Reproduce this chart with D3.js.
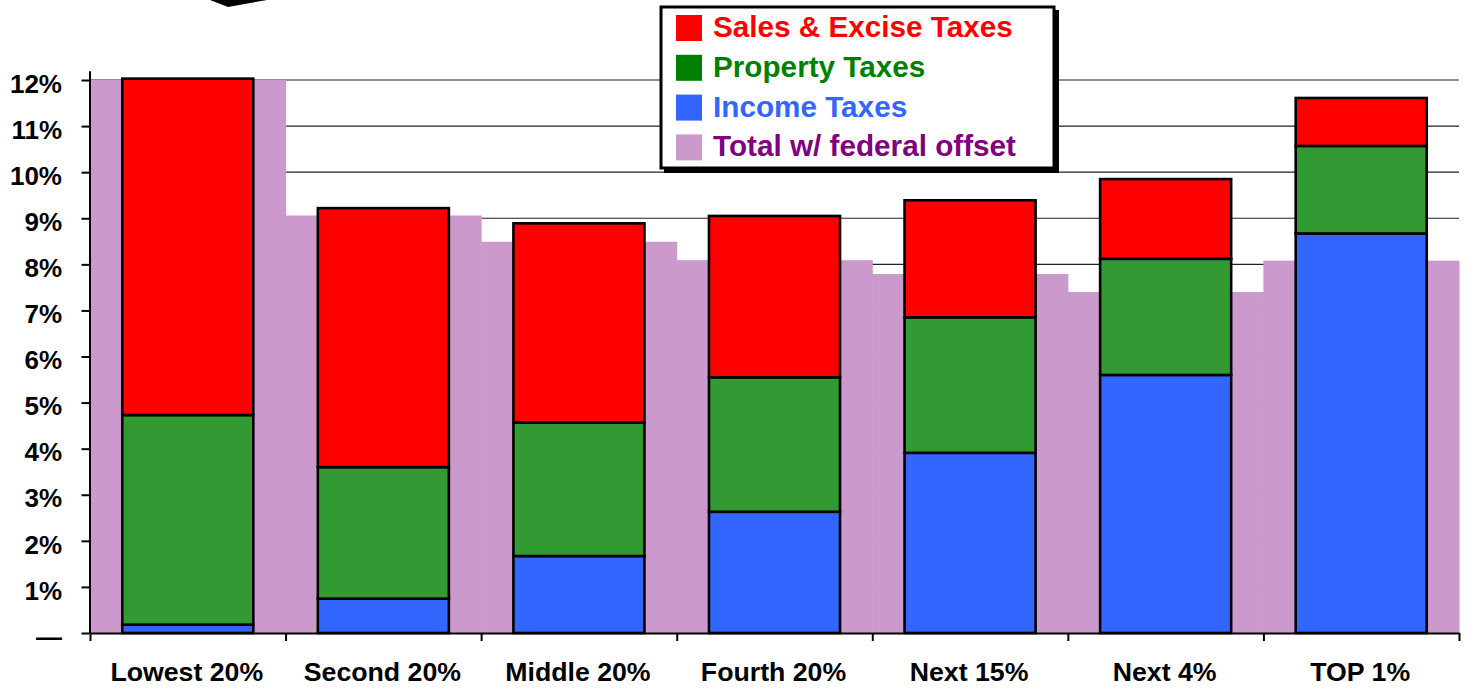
<!DOCTYPE html>
<html>
<head>
<meta charset="utf-8">
<script src="https://cdn.jsdelivr.net/npm/d3@7"></script>
<style>
	body { margin: 0; background: #fff; }
	text { font-family: "Liberation Sans", Arial, sans-serif; font-weight: bold; }
</style>
</head>
<body>
<script>

// Data (percent of income)
var groups = ["Lowest 20%", "Second 20%", "Middle 20%", "Fourth 20%", "Next 15%", "Next 4%", "TOP 1%"];
var incomeTax = [0.18, 0.745, 1.67, 2.63, 3.91, 5.60, 8.67];
var propertyTax = [4.55, 2.855, 2.90, 2.92, 2.94, 2.52, 1.90];
var salesTax = [7.30, 5.62, 4.32, 3.50, 2.54, 1.73, 1.04];
var federalOffset = [12.0, 9.06, 8.49, 8.09, 7.79, 7.40, 8.08];
var yTicks = [0, 1, 2, 3, 4, 5, 6, 7, 8, 9, 10, 11, 12];

var legendItems = [
	{label: "Sales & Excise Taxes", box: "#ff0000", text: "#ff0000"},
	{label: "Property Taxes", box: "#008000", text: "#008000"},
	{label: "Income Taxes", box: "#3366ff", text: "#3366ff"},
	{label: "Total w/ federal offset", box: "#cc99cc", text: "#800080"}
];

var width = 1467, height = 688;
var left = 90, right = 1459, bottom = 633;

var svg = d3.select("body").append("svg")
	.attr("width", width)
	.attr("height", height);

var rows = groups.map(function(g, i) {
	return {group: g, income: incomeTax[i], property: propertyTax[i], sales: salesTax[i], offset: federalOffset[i]};
});

// Scales
var y = d3.scaleLinear()
	.domain([0, 12.2])
	.range([bottom, 70.8]);

var xGroup = d3.scaleBand()
	.domain(groups)
	.range([left, right])
	.padding(0);

var xBar = d3.scaleBand()
	.domain(groups)
	.range([left, right])
	.paddingInner(0.33)
	.paddingOuter(0.165);

var xEdge = d3.scaleLinear()
	.domain([0, groups.length])
	.range([left, right]);

var colors = {income: "#3366ff", property: "#339933", sales: "#ff0000"};

// Gridlines
svg.append("g")
	.selectAll("line")
	.data(yTicks.filter(function(d) { return d > 0; }))
	.enter()
	.append("line")
	.attr("x1", left)
	.attr("x2", right)
	.attr("y1", function(d) { return y(d); })
	.attr("y2", function(d) { return y(d); })
	.attr("stroke", "#222")
	.attr("stroke-width", 1.2);

// Federal offset backdrop
svg.append("g")
	.selectAll("rect")
	.data(rows)
	.enter()
	.append("rect")
	.attr("x", function(d) { return xGroup(d.group); })
	.attr("width", xGroup.bandwidth() + 0.5)
	.attr("y", function(d) { return y(d.offset); })
	.attr("height", function(d) { return y(0) - y(d.offset); })
	.attr("fill", "#cc99cc");

// Stacked bars
var stack = d3.stack().keys(["income", "property", "sales"]);
var series = stack(rows);

svg.append("g")
	.selectAll("g")
	.data(series)
	.enter()
	.append("g")
	.attr("fill", function(s) { return colors[s.key]; })
	.selectAll("rect")
	.data(function(s) { return s; })
	.enter()
	.append("rect")
	.attr("x", function(d) { return xBar(d.data.group); })
	.attr("width", xBar.bandwidth())
	.attr("y", function(d) { return y(d[1]); })
	.attr("height", function(d) { return y(d[0]) - y(d[1]); })
	.attr("stroke", "#000")
	.attr("stroke-width", 2.6);

// Axes
var yAxis = d3.axisLeft(y)
	.tickValues(yTicks)
	.tickSize(8)
	.tickSizeOuter(0)
	.tickPadding(19.5)
	.tickFormat(function(d) { return d === 0 ? "\u2014" : d + "%"; });

var gy = svg.append("g")
	.attr("transform", "translate(" + (left - 0.5) + ",0)")
	.call(yAxis);
gy.selectAll("path, line").attr("stroke", "#000").attr("stroke-width", 2);
gy.selectAll("text")
	.attr("dy", "0.47em")
	.style("font-size", "26px")
	.attr("fill", "#000");

var xAxis = d3.axisBottom(xEdge)
	.tickValues(d3.range(groups.length + 1))
	.tickSize(8)
	.tickSizeOuter(0)
	.tickFormat("");

var gx = svg.append("g")
	.attr("transform", "translate(0," + bottom + ")")
	.call(xAxis);
gx.selectAll("path, line").attr("stroke", "#000").attr("stroke-width", 2);

svg.append("g")
	.selectAll("text")
	.data(groups)
	.enter()
	.append("text")
	.attr("x", function(d) { return xGroup(d) + xGroup.bandwidth() / 2 - 1; })
	.attr("y", 681)
	.attr("text-anchor", "middle")
	.style("font-size", "26.7px")
	.text(function(d) { return d; });

// Legend
var legend = svg.append("g");

legend.append("rect")
	.attr("x", 664)
	.attr("y", 10)
	.attr("width", 395)
	.attr("height", 163)
	.attr("fill", "#000");

legend.append("rect")
	.attr("x", 661)
	.attr("y", 7)
	.attr("width", 393)
	.attr("height", 161)
	.attr("fill", "#fff")
	.attr("stroke", "#000")
	.attr("stroke-width", 3);

var item = legend.selectAll("g.item")
	.data(legendItems)
	.enter()
	.append("g")
	.attr("class", "item")
	.attr("transform", function(d, i) { return "translate(676," + (15 + i * 39.8) + ")"; });

item.append("rect")
	.attr("width", 26)
	.attr("height", 26)
	.attr("fill", function(d) { return d.box; });

item.append("text")
	.attr("x", 37)
	.attr("y", 22)
	.style("font-size", "29.7px")
	.attr("fill", function(d) { return d.text; })
	.text(function(d) { return d.label; });

// Arrow tip cut off at the top edge
svg.append("path")
	.attr("d", "M210,0 L228,7 L267,0 Z")
	.attr("fill", "#000");

</script>
</body>
</html>
